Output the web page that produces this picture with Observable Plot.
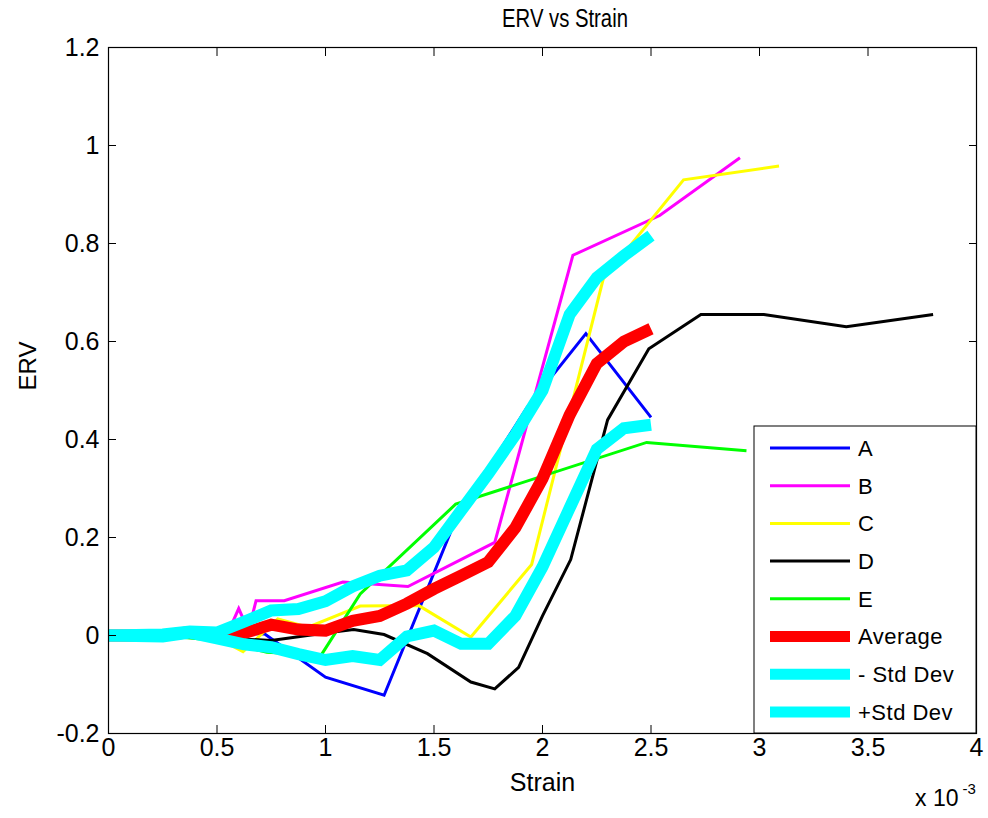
<!DOCTYPE html>
<html><head><meta charset="utf-8">
<script src="https://cdn.jsdelivr.net/npm/d3@7"></script>
<script src="https://cdn.jsdelivr.net/npm/@observablehq/plot@0.6"></script>
<style>
body{margin:0;background:#fff;font-family:"Liberation Sans",Arial,sans-serif;}
#title{height:30px;width:988px;position:relative;}
#title span{position:absolute;left:565px;top:18px;transform:translate(-50%,-50%) scaleX(0.78);font-size:26px;line-height:26px;white-space:nowrap;}
</style></head><body>
<div id="title"><span>ERV vs Strain</span></div>
<div id="chart"></div>
<script>
// ---- data (strain in units of 10^-3) ----
const xTicks = [0, 0.5, 1, 1.5, 2, 2.5, 3, 3.5, 4];
const yTicks = [-0.2, 0, 0.2, 0.4, 0.6, 0.8, 1, 1.2];

const aStrain = [0, 0.25, 0.5, 0.72, 1.0, 1.27, 1.58, 1.72, 1.93, 2.2, 2.5];
const aERV    = [0, 0.002, 0.005, 0.003, -0.085, -0.122, 0.215, 0.32, 0.466, 0.616, 0.445];

const bStrain = [0, 0.25, 0.5, 0.56, 0.6, 0.645, 0.68, 0.81, 1.08, 1.38, 1.78, 2.14, 2.54, 2.91];
const bERV    = [0, 0.001, 0.003, 0.015, 0.055, 0.01, 0.071, 0.071, 0.109, 0.1, 0.19, 0.776, 0.857, 0.975];

const cStrain = [0, 0.25, 0.5, 0.62, 0.78, 0.92, 1.16, 1.43, 1.67, 1.95, 2.28, 2.65, 3.09];
const cERV    = [0, 0, -0.005, -0.033, 0.034, 0.017, 0.06, 0.061, -0.003, 0.145, 0.728, 0.93, 0.958];

const dStrain = [0, 0.25, 0.5, 0.75, 1.0, 1.13, 1.27, 1.47, 1.67, 1.78, 1.89, 2.0, 2.13, 2.3, 2.49, 2.73, 3.02, 3.4, 3.8];
const dERV    = [0, 0, -0.005, -0.01, 0.005, 0.012, 0.002, -0.037, -0.095, -0.109, -0.065, 0.04, 0.155, 0.44, 0.585, 0.655, 0.655, 0.63, 0.655];

const eStrain = [0, 0.25, 0.5, 0.73, 0.98, 1.16, 1.6, 2.48, 2.94];
const eERV    = [0, 0, -0.01, -0.034, -0.04, 0.085, 0.268, 0.394, 0.377];

const avgStrain = [0, 0.25, 0.375, 0.5, 0.625, 0.75, 0.875, 1.0, 1.125, 1.25, 1.375, 1.5, 1.625, 1.75, 1.875, 2.0, 2.125, 2.25, 2.375, 2.5];
const avgERV    = [0, 0, 0.007, 0.0, 0.005, 0.022, 0.012, 0.01, 0.03, 0.04, 0.065, 0.095, 0.122, 0.15, 0.22, 0.32, 0.45, 0.555, 0.6, 0.626];
const minusStd  = [0, -0.002, 0.006, -0.006, -0.018, -0.024, -0.038, -0.05, -0.042, -0.05, -0.002, 0.01, -0.017, -0.017, 0.04, 0.14, 0.26, 0.38, 0.423, 0.43];
const plusStd   = [0, 0.002, 0.008, 0.006, 0.028, 0.051, 0.054, 0.07, 0.1, 0.122, 0.133, 0.18, 0.255, 0.33, 0.41, 0.5, 0.655, 0.73, 0.775, 0.816];

const seriesNames  = ["A", "B", "C", "D", "E", "Average", "- Std Dev", "+Std Dev"];
const seriesColors = ["#0000ff", "#ff00ff", "#ffff00", "#000000", "#00ff00", "#ff0000", "#00ffff", "#00ffff"];
const seriesWidths = [3, 3, 3, 3, 3, 12, 12, 12];

const series = [
  [aStrain, aERV], [bStrain, bERV], [cStrain, cERV], [dStrain, dERV], [eStrain, eERV],
  [avgStrain, avgERV], [avgStrain, minusStd], [avgStrain, plusStd]
].map(([xs, ys], i) => ({
  name: seriesNames[i], color: seriesColors[i], width: seriesWidths[i],
  rows: xs.map((x, j) => ({x, y: ys[j]}))
}));

const fmt = d => String(+d.toFixed(1));
const FONT = '"Liberation Sans", Arial, sans-serif';

const plot = Plot.plot({
  width: 988, height: 788,
  marginLeft: 108, marginRight: 12, marginTop: 17, marginBottom: 85,
  style: {fontFamily: FONT, fontSize: "24px", color: "black", background: "white", overflow: "visible"},
  x: {domain: [0, 4]},
  y: {domain: [-0.2, 1.2]},
  marks: [
    ...series.map(s => Plot.line(s.rows, {
      x: "x", y: "y", stroke: s.color, strokeWidth: s.width,
      strokeLinejoin: "miter", strokeLinecap: "butt", strokeMiterlimit: 4
    })),
    Plot.frame({stroke: "black", strokeWidth: 1.2}),
    Plot.axisX(xTicks, {anchor: "bottom", tickSize: 0, tickPadding: 5, tickFormat: fmt, label: null, fontSize: 25}),
    Plot.axisX(xTicks, {anchor: "bottom", tickSize: -8, tickFormat: () => "", label: null}),
    Plot.axisX(xTicks, {anchor: "top", tickSize: -8, tickFormat: () => "", label: null}),
    Plot.axisY(yTicks, {anchor: "left", tickSize: 0, tickPadding: 9, tickFormat: fmt, label: null, fontSize: 25}),
    Plot.axisY(yTicks, {anchor: "left", tickSize: -8, tickFormat: () => "", label: null}),
    Plot.axisY(yTicks, {anchor: "right", tickSize: -8, tickFormat: () => "", label: null}),
    Plot.text(["Strain"], {text: d => d, frameAnchor: "bottom", dy: 57, fontSize: 25}),
    Plot.text(["ERV"], {text: d => d, frameAnchor: "left", dx: -80, rotate: -90, fontSize: 24}),
    Plot.text(["x 10"], {text: d => d, frameAnchor: "bottom-right", textAnchor: "end", dx: -18, dy: 72, fontSize: 23}),
    Plot.text(["-3"], {text: d => d, frameAnchor: "bottom-right", textAnchor: "start", dx: -14, dy: 60, fontSize: 15})
  ]
});

// legend (inside the axes, bottom-right, MATLAB style)
const svg = d3.select(plot.tagName === "svg" ? plot : plot.querySelector("svg"));
const lg = svg.append("g").attr("font-family", FONT).attr("font-size", 22).attr("text-anchor", "start");
const top0 = 396, left0 = 754;
lg.append("rect").attr("x", left0).attr("y", top0).attr("width", 222).attr("height", 307)
  .attr("fill", "white").attr("stroke", "black").attr("stroke-width", 1);
series.forEach((s, i) => {
  const yy = top0 + 22 + i * 37.7;
  lg.append("line").attr("x1", left0 + 16).attr("x2", left0 + 96).attr("y1", yy).attr("y2", yy)
    .attr("stroke", s.color).attr("stroke-width", s.width > 3 ? 11 : 3);
  lg.append("text").attr("x", left0 + 104).attr("y", yy).attr("dy", "0.36em").attr("fill", "black")
    .attr("text-anchor", "start").attr("letter-spacing", "0.5px").text(s.name);
});

document.getElementById("chart").appendChild(plot);
</script></body></html>
